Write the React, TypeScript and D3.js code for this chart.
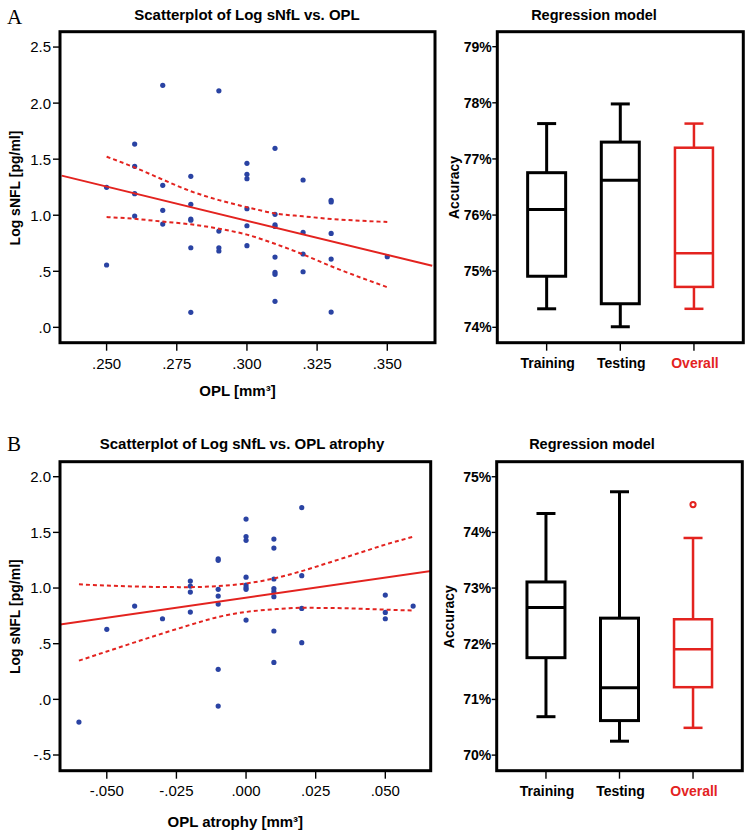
import React from "react";
import * as d3 from "d3";

// ---------- Panel A scatter data (OPL vs Log sNfL) ----------
const oplA = [
  0.25, 0.25,
  0.26, 0.26, 0.26, 0.26,
  0.27, 0.27, 0.27, 0.27,
  0.28, 0.28, 0.28, 0.28, 0.28, 0.28,
  0.29, 0.29, 0.29, 0.29,
  0.3, 0.3, 0.3, 0.3, 0.3, 0.3,
  0.31, 0.31, 0.31, 0.31, 0.31, 0.31, 0.31, 0.31,
  0.32, 0.32, 0.32, 0.32,
  0.33, 0.33, 0.33, 0.33, 0.33,
  0.35,
];
const logA = [
  1.249, 0.556,
  1.635, 1.436, 1.192, 0.993,
  2.159, 1.267, 1.044, 0.921,
  1.347, 1.097, 0.966, 0.955, 0.71, 0.134,
  2.11, 0.859, 0.71, 0.681,
  1.463, 1.365, 1.326, 1.058, 0.906, 0.728,
  1.597, 1.008, 0.915, 0.9, 0.627, 0.491, 0.473, 0.232,
  1.314, 0.847, 0.654, 0.496,
  1.133, 1.118, 0.838, 0.609, 0.136,
  0.63,
];
const fitXA = [0.234, 0.366];
const fitYA = [1.353, 0.549];
const bandXA = [0.25, 0.26, 0.27, 0.28, 0.29, 0.3, 0.31, 0.32, 0.33, 0.35];
const bandUpA = [1.522, 1.426, 1.318, 1.214, 1.135, 1.072, 1.016, 0.99, 0.967, 0.94];
const bandLoA = [0.984, 0.968, 0.943, 0.919, 0.88, 0.827, 0.745, 0.65, 0.545, 0.358];
const xTicksA = [0.25, 0.275, 0.3, 0.325, 0.35];
const yTicksA = [0, 0.5, 1.0, 1.5, 2.0, 2.5];

// ---------- Panel B scatter data (OPL atrophy vs Log sNfL) ----------
const oplB = [
  -0.06, -0.05, -0.04, -0.03,
  -0.02, -0.02, -0.02, -0.02,
  -0.01, -0.01, -0.01, -0.01, -0.01, -0.01, -0.01,
  0, 0, 0, 0, 0, 0, 0, 0,
  0.01, 0.01, 0.01, 0.01, 0.01, 0.01, 0.01, 0.01,
  0.02, 0.02, 0.02, 0.02,
  0.05, 0.05, 0.05,
  0.06,
];
const logB = [
  -0.204, 0.629, 0.838, 0.724,
  1.063, 1.018, 0.964, 0.784,
  1.263, 1.249, 0.988, 0.928, 0.856, 0.27, -0.06,
  1.62, 1.462, 1.429, 1.098, 1.027, 1.005, 0.988, 0.712,
  1.44, 1.359, 1.081, 0.995, 0.967, 0.922, 0.614, 0.332,
  1.722, 1.111, 0.817, 0.509,
  0.937, 0.781, 0.724,
  0.838,
];
const fitXB = [-0.0668, 0.0668];
const fitYB = [0.672, 1.154];
const bandXB = [-0.06, -0.05, -0.04, -0.03, -0.02, -0.01, 0, 0.01, 0.02, 0.03, 0.04, 0.05, 0.06];
const bandUpB = [1.033, 1.022, 1.014, 1.009, 1.008, 1.018, 1.041, 1.086, 1.152, 1.23, 1.31, 1.39, 1.461];
const bandLoB = [0.348, 0.43, 0.512, 0.592, 0.669, 0.74, 0.785, 0.809, 0.822, 0.821, 0.815, 0.806, 0.798];
const xTicksB = [-0.05, -0.025, 0, 0.025, 0.05];
const yTicksB = [-0.5, 0, 0.5, 1.0, 1.5, 2.0];

// ---------- Box plots ----------
const boxCategories = ["Training", "Testing", "Overall"];
// [min, q1, median, q3, max]
const boxStatsA = [
  [74.33, 74.91, 76.1, 76.755, 77.63],
  [74.01, 74.42, 76.62, 77.3, 77.98],
  [74.33, 74.72, 75.32, 77.2, 77.63],
];
const boxOutliersA: number[][] = [[], [], []];
const boxTicksA = [74, 75, 76, 77, 78, 79];
const boxStatsB = [
  [70.69, 71.75, 72.65, 73.11, 74.34],
  [70.25, 70.62, 71.21, 72.46, 74.73],
  [70.49, 71.22, 71.9, 72.44, 73.9],
];
const boxOutliersB: number[][] = [[], [], [74.5]];
const boxTicksB = [70, 71, 72, 73, 74, 75];

const RED = "#e3231f";
const BLUE = "#2a43a3";
const FONT = "'Liberation Sans', Arial, Helvetica, sans-serif";

const fmtDec = (digits: number) => (v: number) =>
  v.toFixed(digits).replace(/^(-?)0\./, "$1.");

type Frame = { x0: number; x1: number; y0: number; y1: number };

function Scatter(props: {
  frame: Frame;
  xDomain: [number, number];
  yDomain: [number, number];
  xs: number[];
  ys: number[];
  fitX: number[];
  fitY: number[];
  bandX: number[];
  bandUp: number[];
  bandLo: number[];
  xTicks: number[];
  yTicks: number[];
  title: string;
  titleX: number;
  titleY: number;
  xLabel: string;
  xLabelY: number;
  xTickY: number;
  yLabelX: number;
  yLabelCY: number;
  clipId: string;
}) {
  const f = props.frame;
  const x = d3.scaleLinear().domain(props.xDomain).range([f.x0, f.x1]);
  const y = d3.scaleLinear().domain(props.yDomain).range([f.y1, f.y0]);
  const lineGen = d3
    .line<number>()
    .x((_, i) => x(props.bandX[i]))
    .y((d) => y(d))
    .curve(d3.curveMonotoneX);
  const fitLine = d3
    .line<number>()
    .x((_, i) => x(props.fitX[i]))
    .y((d) => y(d));
  const fx = fmtDec(3);
  const fy = fmtDec(1);
  return (
    <g>
      <defs>
        <clipPath id={props.clipId}>
          <rect x={f.x0} y={f.y0} width={f.x1 - f.x0} height={f.y1 - f.y0} />
        </clipPath>
      </defs>
      <text x={props.titleX} y={props.titleY} textAnchor="middle" fontSize={15} fontWeight="bold" fontFamily={FONT}>
        {props.title}
      </text>
      {props.yTicks.map((t) => (
        <g key={"y" + t}>
          <line x1={f.x0 - 7} x2={f.x0} y1={y(t)} y2={y(t)} stroke="#000" strokeWidth={1.4} />
          <text x={f.x0 - 9} y={y(t)} dy="0.36em" textAnchor="end" fontSize={15} fontFamily={FONT}>
            {fy(t)}
          </text>
        </g>
      ))}
      {props.xTicks.map((t) => (
        <g key={"x" + t}>
          <line x1={x(t)} x2={x(t)} y1={f.y1} y2={f.y1 + 8} stroke="#000" strokeWidth={1.4} />
          <text x={x(t)} y={props.xTickY} textAnchor="middle" fontSize={15} fontFamily={FONT}>
            {fx(t)}
          </text>
        </g>
      ))}
      <g clipPath={`url(#${props.clipId})`}>
        {props.xs.map((v, i) => (
          <circle key={i} cx={x(v)} cy={y(props.ys[i])} r={2.6} fill={BLUE} />
        ))}
        <path d={fitLine(props.fitY) || ""} fill="none" stroke={RED} strokeWidth={2} />
        <path d={lineGen(props.bandUp) || ""} fill="none" stroke={RED} strokeWidth={2} strokeDasharray="4,3" />
        <path d={lineGen(props.bandLo) || ""} fill="none" stroke={RED} strokeWidth={2} strokeDasharray="4,3" />
      </g>
      <rect x={f.x0} y={f.y0} width={f.x1 - f.x0} height={f.y1 - f.y0} fill="none" stroke="#000" strokeWidth={3} />
      <text
        transform={`translate(${props.yLabelX},${props.yLabelCY}) rotate(-90)`}
        textAnchor="middle"
        fontSize={14}
        fontWeight="bold"
        fontFamily={FONT}
      >
        Log sNFL [pg/ml]
      </text>
      <text x={(f.x0 + f.x1) / 2 - 10} y={props.xLabelY} textAnchor="middle" fontSize={15} fontWeight="bold" fontFamily={FONT}>
        {props.xLabel}
      </text>
    </g>
  );
}

function BoxPanel(props: {
  frame: Frame;
  yDomain: [number, number];
  stats: number[][];
  outliers: number[][];
  ticks: number[];
  titleX: number;
  titleY: number;
  catY: number;
  yLabelX: number;
  yLabelCY: number;
}) {
  const f = props.frame;
  const x = d3.scalePoint<string>().domain(boxCategories).range([f.x0, f.x1]).padding(0.67);
  const y = d3.scaleLinear().domain(props.yDomain).range([f.y1, f.y0]);
  const bw = 38;
  const cap = 19;
  return (
    <g>
      <text x={props.titleX} y={props.titleY} textAnchor="middle" fontSize={14.5} fontWeight="bold" fontFamily={FONT}>
        Regression model
      </text>
      {props.ticks.map((t) => (
        <g key={t}>
          <line x1={f.x0 - 5} x2={f.x0} y1={y(t)} y2={y(t)} stroke="#000" strokeWidth={1.4} />
          <text x={f.x0 - 5.5} y={y(t)} dy="0.36em" textAnchor="end" fontSize={14} fontWeight="bold" fontFamily={FONT}>
            {t}%
          </text>
        </g>
      ))}
      {boxCategories.map((c, i) => {
        const cx = x(c) as number;
        const s = props.stats[i];
        const col = c === "Overall" ? RED : "#000";
        const sw = c === "Overall" ? 2.5 : 3;
        return (
          <g key={c}>
            <line x1={cx} x2={cx} y1={f.y1} y2={f.y1 + 8} stroke="#000" strokeWidth={1.4} />
            <text x={cx + 1} y={props.catY} textAnchor="middle" fontSize={14} fontWeight="bold" fontFamily={FONT} fill={col}>
              {c}
            </text>
            <line x1={cx} x2={cx} y1={y(s[0])} y2={y(s[1])} stroke={col} strokeWidth={sw} />
            <line x1={cx} x2={cx} y1={y(s[3])} y2={y(s[4])} stroke={col} strokeWidth={sw} />
            <line x1={cx - cap / 2} x2={cx + cap / 2} y1={y(s[0])} y2={y(s[0])} stroke={col} strokeWidth={sw} />
            <line x1={cx - cap / 2} x2={cx + cap / 2} y1={y(s[4])} y2={y(s[4])} stroke={col} strokeWidth={sw} />
            <rect x={cx - bw / 2} y={y(s[3])} width={bw} height={y(s[1]) - y(s[3])} fill="#fff" stroke={col} strokeWidth={sw} />
            <line x1={cx - bw / 2} x2={cx + bw / 2} y1={y(s[2])} y2={y(s[2])} stroke={col} strokeWidth={sw} />
            {props.outliers[i].map((o, j) => (
              <circle key={j} cx={cx} cy={y(o)} r={2.6} fill="#fff" stroke={col} strokeWidth={2} />
            ))}
          </g>
        );
      })}
      <rect x={f.x0} y={f.y0} width={f.x1 - f.x0} height={f.y1 - f.y0} fill="none" stroke="#000" strokeWidth={3} />
      <text
        transform={`translate(${props.yLabelX},${props.yLabelCY}) rotate(-90)`}
        textAnchor="middle"
        fontSize={14}
        fontWeight="bold"
        fontFamily={FONT}
      >
        Accuracy
      </text>
    </g>
  );
}

export default function App() {
  return (
    <svg
      width={752}
      height={837}
      viewBox="0 0 752 837"
      style={{ position: "absolute", left: 0, top: 0, background: "#fff" }}
    >
      <rect x={0} y={0} width={752} height={837} fill="#fff" />
      <text x={7} y={24} fontSize={21} fontFamily="'Liberation Serif', 'Times New Roman', serif">A</text>
      <text x={7} y={451} fontSize={21} fontFamily="'Liberation Serif', 'Times New Roman', serif">B</text>

      <Scatter
        frame={{ x0: 60, x1: 435, y0: 31.7, y1: 342.7 }}
        xDomain={[0.2334, 0.367]}
        yDomain={[-0.137, 2.637]}
        xs={oplA}
        ys={logA}
        fitX={fitXA}
        fitY={fitYA}
        bandX={bandXA}
        bandUp={bandUpA}
        bandLo={bandLoA}
        xTicks={xTicksA}
        yTicks={yTicksA}
        title="Scatterplot of Log sNfL vs. OPL"
        titleX={247}
        titleY={20}
        xLabel="OPL [mm³]"
        xLabelY={396}
        xTickY={368.5}
        yLabelX={19.5}
        yLabelCY={188}
        clipId="clipA"
      />
      <BoxPanel
        frame={{ x0: 497.3, x1: 743.3, y0: 31.7, y1: 342.7 }}
        yDomain={[73.726, 79.267]}
        stats={boxStatsA}
        outliers={boxOutliersA}
        ticks={boxTicksA}
        titleX={594}
        titleY={20}
        catY={368}
        yLabelX={458.5}
        yLabelCY={187.5}
      />

      <Scatter
        frame={{ x0: 60, x1: 430.7, y0: 461.7, y1: 770.7 }}
        xDomain={[-0.0668, 0.0663]}
        yDomain={[-0.641, 2.135]}
        xs={oplB}
        ys={logB}
        fitX={fitXB}
        fitY={fitYB}
        bandX={bandXB}
        bandUp={bandUpB}
        bandLo={bandLoB}
        xTicks={xTicksB}
        yTicks={yTicksB}
        title="Scatterplot of Log sNfL vs. OPL atrophy"
        titleX={242}
        titleY={449}
        xLabel="OPL atrophy [mm³]"
        xLabelY={827}
        xTickY={795.5}
        yLabelX={20}
        yLabelCY={616.7}
        clipId="clipB"
      />
      <BoxPanel
        frame={{ x0: 496.7, x1: 742.3, y0: 461.7, y1: 770.7 }}
        yDomain={[69.72, 75.27]}
        stats={boxStatsB}
        outliers={boxOutliersB}
        ticks={boxTicksB}
        titleX={592}
        titleY={449}
        catY={796}
        yLabelX={454}
        yLabelCY={616.7}
      />
    </svg>
  );
}
